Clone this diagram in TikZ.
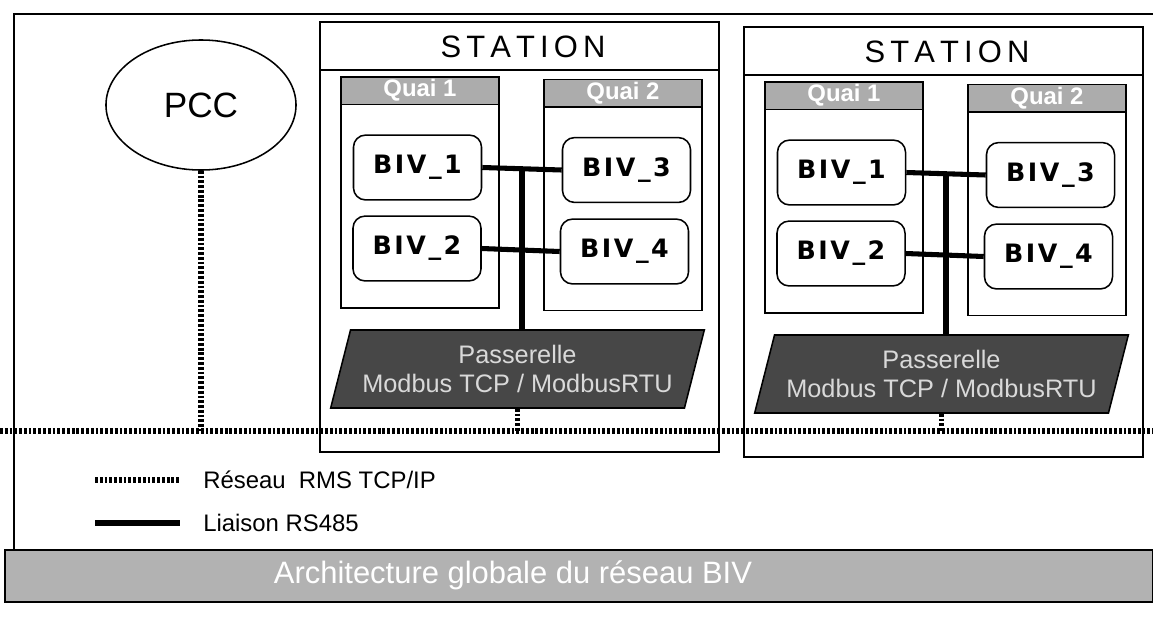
\documentclass[tikz,border=0pt]{standalone}
\usepackage{fontspec}
\setmainfont{Liberation Sans}
\newfontfamily\bivfont[LetterSpace=10]{DejaVu Sans}
\usetikzlibrary{shapes.geometric,calc}

\tikzset{
  frame/.style={draw, line width=1.1pt},
  netline/.style={line width=3.6pt, dash pattern=on 2pt off 1.4pt},
  rsline/.style={line width=3.6pt},
  stationbox/.style={frame, minimum width=9.975cm, minimum height=10.75cm, inner sep=0pt},
  quaibox/.style={frame, fill=white, minimum width=3.95cm, minimum height=5.77cm, inner sep=0pt},
  quaihead/.style={frame, fill=gray!65, text=white, minimum width=3.95cm, minimum height=0.68cm,
    inner sep=0pt, anchor=north, font=\fontsize{17}{19}\selectfont\bfseries},
  bivbox/.style={frame, fill=white, rounded corners=0.3cm, minimum width=3.2cm, minimum height=1.62cm,
    font=\bivfont\fontsize{18}{20}\selectfont\bfseries},
  gwbox/.style={trapezium, trapezium left angle=69, trapezium right angle=111, trapezium stretches=true,
    frame, fill=black!72, text=white!85!black, minimum width=9.35cm, minimum height=1.95cm,
    inner sep=0pt, align=center, font=\fontsize{18}{21}\selectfont},
  legtext/.style={anchor=west, inner sep=0pt, font=\fontsize{17}{19}\selectfont}
}

\begin{document}
\begin{tikzpicture}[x=0.025cm, y=-0.025cm]
\useasboundingbox (0,0) rectangle (1153,620);

% outer frame and caption
\draw[frame] (1153,14) -- (14,14) -- (14,550);
\node[frame, fill=gray!60, minimum width=28.7cm, minimum height=1.3cm, inner sep=0pt] (caption) at (579,576) {};
\node[text=white, font=\fontsize{22}{24}\selectfont] (captext) at (513,575) {Architecture globale du réseau BIV};

% central control
\node[draw, line width=1.1pt, ellipse, minimum width=4.75cm, minimum height=3.25cm,
  font=\fontsize{25}{27}\selectfont] (pcc) at (201,105) {PCC};

\coordinate (net) at (0,431);

% the two stations
\foreach \s/\dx/\dy in {1/0/0, 2/424/5} {
  \begin{scope}[shift={(\dx,\dy)}]
  \node[stationbox] (st\s) at (519.5,237) {};
  \node[font=\fontsize{22}{24}\selectfont] (title\s) at (523,47) {S\,T\,A\,T\,I\,O\,N};
  \draw[frame] (st\s.west |- 0,70) -- (st\s.east |- 0,70);

  \node[quaibox] (s\s-qa) at (420,192.5) {};
  \node[quaihead] (s\s-ha) at (s\s-qa.north) {Quai 1};
  \node[quaibox] (s\s-qb) at (623,195) {};
  \node[quaihead] (s\s-hb) at (s\s-qb.north) {Quai 2};

  \node[bivbox] (s\s-biv1) at (417.5,167.5) {BIV\_1};
  \node[bivbox] (s\s-biv2) at (417,248.5) {BIV\_2};
  \node[bivbox] (s\s-biv3) at (626.5,170) {BIV\_3};
  \node[bivbox] (s\s-biv4) at (624.5,251.5) {BIV\_4};

  \node[gwbox] (gw\s) at (517.5,369) {Passerelle\\Modbus TCP / ModbusRTU};

  % RS485 bus
  \coordinate (bus\s) at ($(s\s-biv1.east)!0.5!(s\s-biv3.west)$);
  \draw[rsline] (s\s-biv1.east) -- (s\s-biv3.west);
  \draw[rsline] (s\s-biv2.east) -- (s\s-biv4.west);
  \draw[rsline] (bus\s) -- (bus\s |- gw\s.north);

  \draw[netline] (gw\s.south) -- (gw\s.south |- net);
  \end{scope}
}

% TCP/IP network
\draw[netline] (net) -- (1153,431);
\draw[netline] (pcc.south) -- (pcc.south |- net);

% legend
\node[legtext] (leg-net) at (203,480) {Réseau\ \ RMS TCP/IP};
\node[legtext] (leg-rs) at (203,523) {Liaison RS485};
\coordinate (leg-net-a) at (95,480);
\coordinate (leg-rs-a) at (95,523);
\draw[netline] (leg-net-a) -- ([xshift=-0.575cm]leg-net.west);
\draw[rsline] (leg-rs-a) -- ([xshift=-0.575cm]leg-rs.west);
\end{tikzpicture}
\end{document}
